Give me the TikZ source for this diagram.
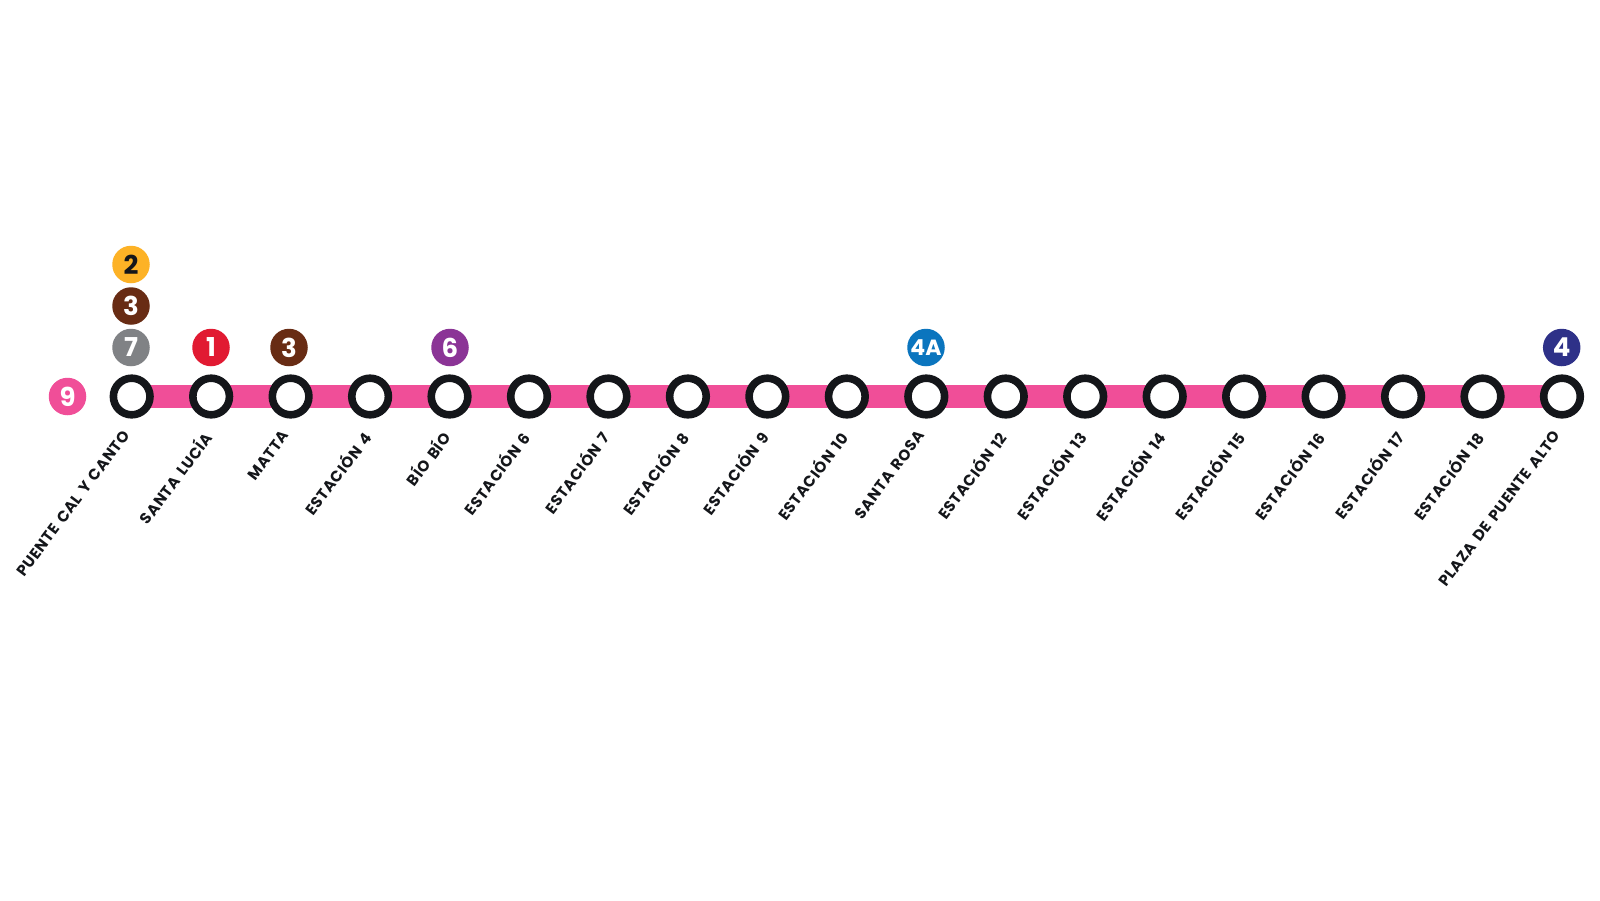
\documentclass[tikz,border=0pt]{standalone}
\usepackage{fontspec}
\setmainfont{Poppins}[BoldFont={Poppins Bold}]
\newfontfamily\lblfont{Poppins Bold}[LetterSpace=4.5,WordSpace=1.4]
\definecolor{lineP}{HTML}{F04E98}
\definecolor{ringK}{HTML}{14161A}
\definecolor{cTwo}{RGB}{253,178,38}
\definecolor{cThree}{RGB}{104,44,20}
\definecolor{cSeven}{RGB}{128,130,133}
\definecolor{cOne}{RGB}{225,26,50}
\definecolor{cSix}{RGB}{139,52,150}
\definecolor{cFourA}{RGB}{11,117,190}
\definecolor{cFour}{RGB}{46,49,136}
\tikzset{
  track/.style={draw=lineP,line width=23pt},
  stn/.style={circle,draw=ringK,fill=white,line width=7.6pt,minimum size=36.6pt,inner sep=0pt,outer sep=0pt},
  badge/.style={circle,fill=#1,minimum size=37.5pt,inner sep=0pt,text=white,font=\bfseries\fontsize{26}{26}\selectfont},
  lbl/.style={rotate=53,anchor=north east,inner sep=0pt,text=ringK,font=\lblfont\fontsize{15.3}{16}\selectfont}
}
\begin{document}
\begin{tikzpicture}[x=1pt,y=-1pt]
\useasboundingbox (0,0) rectangle (1600,900);
\fill[white] (0,0) rectangle (1600,900);
\coordinate (tstart) at (131.7,396);
\coordinate (tend) at (1562,396);
\draw[track] (tstart) -- (tend);
\foreach \i/\t in {
 0/PUENTE CAL Y CANTO,1/SANTA LUCÍA,2/MATTA,3/ESTACIÓN 4,4/BÍO BÍO,
 5/ESTACIÓN 6,6/ESTACIÓN 7,7/ESTACIÓN 8,8/ESTACIÓN 9,9/ESTACIÓN 10,
 10/SANTA ROSA,11/ESTACIÓN 12,12/ESTACIÓN 13,13/ESTACIÓN 14,14/ESTACIÓN 15,
 15/ESTACIÓN 16,16/ESTACIÓN 17,17/ESTACIÓN 18,18/PLAZA DE PUENTE ALTO}{
  \node[stn] (s\i) at ({131.7+\i*79.46},396.5) {};
  \node[lbl] (l\i) at ({131.7+\i*79.46-9.5},{429}) {\t};
}
\node[badge=lineP] (b9) at (67.5,396.5) {9};
\node[badge=cTwo,text=ringK] (b2) at (131,264.5) {2};
\node[badge=cThree] (b3a) at (131,306) {3};
\node[badge=cSeven] (b7) at (131,347.5) {7};
\node[badge=cOne] (b1) at (211,347.5) {1};
\node[badge=cThree] (b3b) at (289,347.5) {3};
\node[badge=cSix] (b6) at (450,347.5) {6};
\node[badge=cFourA,font=\bfseries\fontsize{22}{22}\selectfont] (b4a) at (926,347.5) {4A};
\node[badge=cFour] (b4) at (1561.7,347.5) {4};
\end{tikzpicture}
\end{document}
